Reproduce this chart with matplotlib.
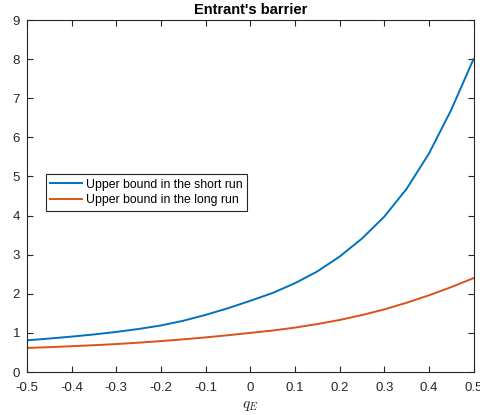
import matplotlib
matplotlib.use("Agg")
import matplotlib.pyplot as plt

# Entrant's quantity q_E
q_e = [-0.5, -0.45, -0.4, -0.35, -0.3, -0.25, -0.2, -0.15, -0.1, -0.05,
       0.0, 0.05, 0.1, 0.15, 0.2, 0.25, 0.3, 0.35, 0.4, 0.45, 0.5]

# Upper bound on the barrier, short run
short_run = [0.81, 0.855, 0.905, 0.96, 1.025, 1.10, 1.19, 1.31, 1.46, 1.63,
             1.82, 2.02, 2.27, 2.57, 2.95, 3.41, 3.97, 4.68, 5.58, 6.70, 8.0]

# Upper bound on the barrier, long run
long_run = [0.615, 0.635, 0.66, 0.685, 0.715, 0.75, 0.79, 0.835, 0.885, 0.94,
            1.0, 1.06, 1.135, 1.225, 1.33, 1.455, 1.60, 1.77, 1.96, 2.17, 2.40]

series_labels = ["Upper bound in the short run", "Upper bound in the long run"]
x_ticks = [-0.5, -0.4, -0.3, -0.2, -0.1, 0, 0.1, 0.2, 0.3, 0.4, 0.5]
x_tick_labels = ["-0.5", "-0.4", "-0.3", "-0.2", "-0.1", "0",
                 "0.1", "0.2", "0.3", "0.4", "0.5"]
y_ticks = [0, 1, 2, 3, 4, 5, 6, 7, 8, 9]

plt.rcParams["font.family"] = ["Liberation Sans", "DejaVu Sans"]
plt.rcParams["mathtext.fontset"] = "cm"

fig = plt.figure(figsize=(4.8, 4.15), dpi=100)
ax = fig.add_axes([27 / 480, 43 / 415, 446.5 / 480, 352 / 415])

ax.plot(q_e, short_run, color="#0072BD", lw=1.4, label=series_labels[0],
        solid_joinstyle="round")
ax.plot(q_e, long_run, color="#D95319", lw=1.4, label=series_labels[1],
        solid_joinstyle="round")

ax.set_xlim(-0.5, 0.5)
ax.set_ylim(0, 9)
ax.set_xticks(x_ticks)
ax.set_xticklabels(x_tick_labels)
ax.set_yticks(y_ticks)

axis_color = "#262626"
for sp in ax.spines.values():
    sp.set_color(axis_color)
    sp.set_linewidth(0.8)
ax.tick_params(direction="in", top=True, right=True, length=4, width=0.8,
               color=axis_color, labelcolor=axis_color, labelsize=9.5)
ax.tick_params(axis="x", pad=7)
ax.tick_params(axis="y", pad=5)

ax.set_title("Entrant's barrier", fontsize=10.5, fontweight="bold", pad=4)
ax.set_xlabel("$q_E$", fontsize=11, color=axis_color, labelpad=4)

leg = ax.legend(loc="upper left", bbox_to_anchor=(0.042, 0.5616),
                borderaxespad=0, fontsize=8.8, handlelength=2.6,
                handletextpad=0.35, labelspacing=0.3, borderpad=0.35,
                fancybox=False, framealpha=1)
leg.get_frame().set_edgecolor(axis_color)
leg.get_frame().set_linewidth(0.8)

fig.savefig("out.png", dpi=100)
